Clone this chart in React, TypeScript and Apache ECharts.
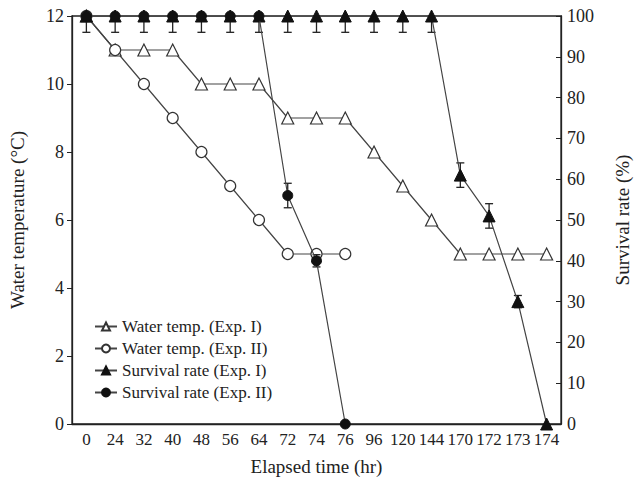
import React, { useEffect, useRef } from "react";
import * as echarts from "echarts";

const hours = ["0", "24", "32", "40", "48", "56", "64", "72", "74", "76", "96", "120", "144", "170", "172", "173", "174"];
const tempExp1 = [12, 11, 11, 11, 10, 10, 10, 9, 9, 9, 8, 7, 6, 5, 5, 5, 5];
const tempExp2 = [12, 11, 10, 9, 8, 7, 6, 5, 5, 5];
const survExp1 = [100, 100, 100, 100, 100, 100, 100, 100, 100, 100, 100, 100, 100, 61, 51, 30, 0];
const survExp2 = [100, 100, 100, 100, 100, 100, 100, 56, 40, 0];
// standard deviation of survival rate (%); null = no bar
const errExp1 = [null, null, null, null, null, null, null, 4, 4, 4, 4, 4, 4, 3, 3, 1.5, null];
const errExp2 = [4, 4, 4, 4, 4, 4, 4, 3, 1.5, null];

const FONT = "Liberation Serif";
const INK = "#222";

function errorData(vals: number[], errs: (number | null)[]) {
  const out: number[][] = [];
  vals.forEach((v, i) => {
    const e = errs[i];
    if (e != null) out.push([i, v, e]);
  });
  return out;
}

function renderError(params: any, api: any) {
  const x = api.value(0);
  const v = api.value(1);
  const e = api.value(2);
  const hi = Math.min(v + e, 100);
  const lo = v - e;
  const pHi = api.coord([x, hi]);
  const pLo = api.coord([x, lo]);
  const cap = 4;
  const st = { stroke: INK, lineWidth: 1.3 };
  const children: any[] = [
    { type: "line", shape: { x1: pHi[0], y1: pHi[1], x2: pLo[0], y2: pLo[1] }, style: st },
    { type: "line", shape: { x1: pLo[0] - cap, y1: pLo[1], x2: pLo[0] + cap, y2: pLo[1] }, style: st },
  ];
  if (v + e <= 100) {
    children.push({ type: "line", shape: { x1: pHi[0] - cap, y1: pHi[1], x2: pHi[0] + cap, y2: pHi[1] }, style: st });
  }
  return { type: "group", children };
}

export default function App() {
  const ref = useRef<HTMLDivElement>(null);
  useEffect(() => {
    const chart = echarts.init(ref.current!, null, { renderer: "svg" });
    const mkLine = () => ({ color: "#444", width: 1.2 });
    const openItem = () => ({ color: "#fff", borderColor: "#333", borderWidth: 1.2 });
    const solidItem = () => ({ color: "#111", borderColor: "#111", borderWidth: 1 });
    chart.setOption({
      animation: false,
      backgroundColor: "#fff",
      textStyle: { fontFamily: FONT, color: INK },
      grid: { left: 71, right: 74, top: 16, bottom: 60, show: true, borderColor: INK, borderWidth: 1.3 },
      legend: {
        orient: "vertical",
        left: 89,
        top: 313,
        itemGap: 5,
        itemWidth: 22,
        itemHeight: 10,
        textStyle: { fontFamily: FONT, fontSize: 17, color: INK },
        data: ["Water temp. (Exp. I)", "Water temp. (Exp. II)", "Survival rate (Exp. I)", "Survival rate (Exp. II)"],
      },
      xAxis: {
        type: "category",
        data: hours,
        boundaryGap: true,
        name: "Elapsed time (hr)",
        nameLocation: "middle",
        nameGap: 33,
        nameTextStyle: { fontFamily: FONT, fontSize: 19, color: INK },
        axisLine: { lineStyle: { color: INK, width: 1.3 } },
        axisTick: { inside: true, length: 5, lineStyle: { color: INK } },
        axisLabel: { fontFamily: FONT, fontSize: 17, color: INK, margin: 7, interval: 0 },
      },
      yAxis: [
        {
          type: "value",
          min: 0,
          max: 12,
          interval: 2,
          name: "Water temperature (°C)",
          nameLocation: "middle",
          nameGap: 45,
          nameTextStyle: { fontFamily: FONT, fontSize: 19, color: INK },
          axisLine: { show: true, lineStyle: { color: INK, width: 1.3 } },
          axisTick: { show: true, length: 5, lineStyle: { color: INK } },
          axisLabel: { fontFamily: FONT, fontSize: 18, color: INK, margin: 8 },
          splitLine: { show: false },
        },
        {
          type: "value",
          min: 0,
          max: 100,
          interval: 10,
          position: "right",
          name: "Survival rate (%)",
          nameLocation: "middle",
          nameGap: 52,
          nameTextStyle: { fontFamily: FONT, fontSize: 19, color: INK },
          axisLine: { show: true, lineStyle: { color: INK, width: 1.3 } },
          axisTick: { show: true, inside: true, length: 5, lineStyle: { color: INK } },
          axisLabel: { fontFamily: FONT, fontSize: 18, color: INK, margin: 6 },
          splitLine: { show: false },
        },
      ],
      series: [
        {
          name: "Water temp. (Exp. I)",
          type: "line",
          data: tempExp1,
          symbol: "triangle",
          symbolSize: 12,
          lineStyle: mkLine(),
          itemStyle: openItem(),
          z: 2,
        },
        {
          name: "Water temp. (Exp. II)",
          type: "line",
          data: tempExp2,
          symbol: "circle",
          symbolSize: 11,
          lineStyle: mkLine(),
          itemStyle: openItem(),
          z: 2,
        },
        {
          type: "custom",
          yAxisIndex: 1,
          data: errorData(survExp1, errExp1),
          renderItem: renderError,
          z: 3,
          silent: true,
        },
        {
          type: "custom",
          yAxisIndex: 1,
          data: errorData(survExp2, errExp2),
          renderItem: renderError,
          z: 3,
          silent: true,
        },
        {
          name: "Survival rate (Exp. I)",
          type: "line",
          yAxisIndex: 1,
          data: survExp1,
          symbol: "triangle",
          symbolSize: 12,
          lineStyle: mkLine(),
          itemStyle: solidItem(),
          z: 4,
        },
        {
          name: "Survival rate (Exp. II)",
          type: "line",
          yAxisIndex: 1,
          data: survExp2,
          symbol: "circle",
          symbolSize: 10,
          lineStyle: mkLine(),
          itemStyle: solidItem(),
          z: 5,
        },
      ],
    });
    return () => chart.dispose();
  }, []);
  return <div ref={ref} style={{ width: 640, height: 484, position: "absolute", left: 0, top: 0 }} />;
}
